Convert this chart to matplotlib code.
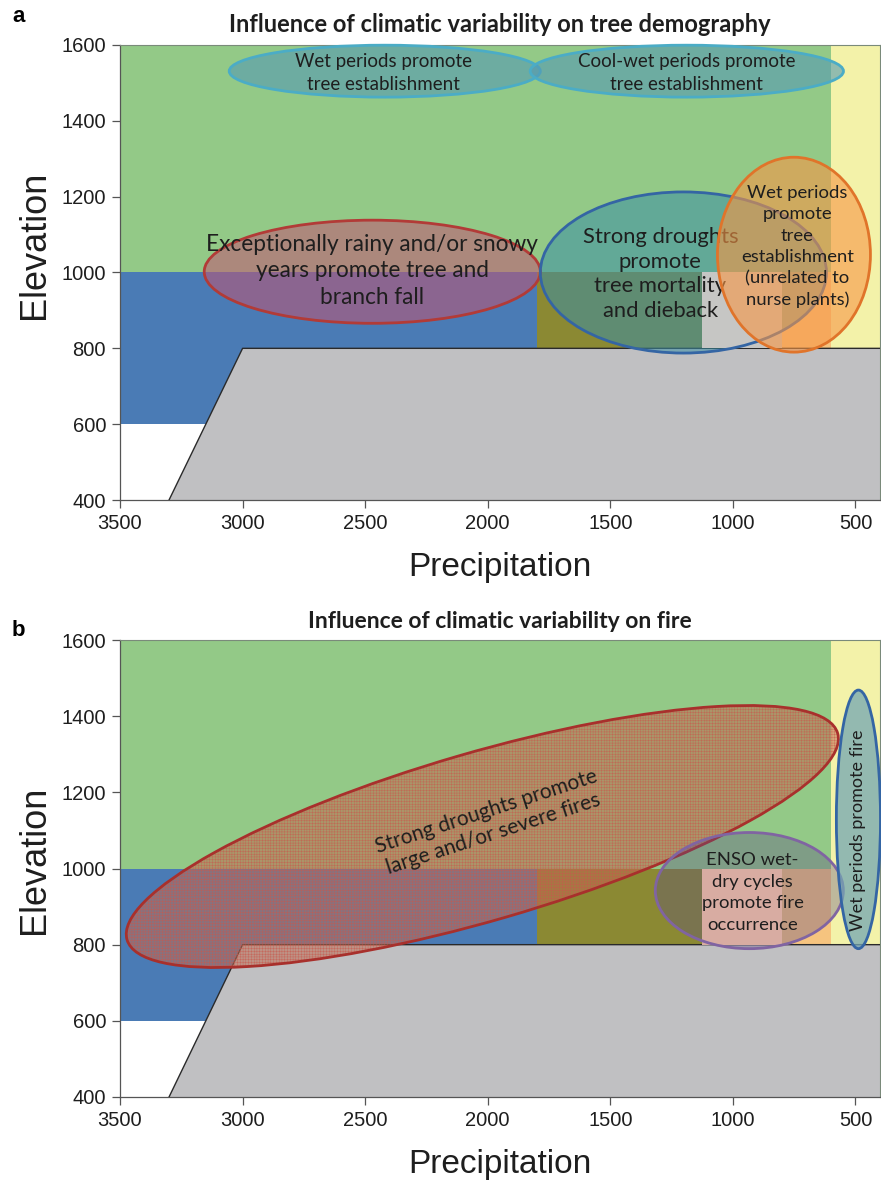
import matplotlib.pyplot as plt
from matplotlib.patches import Ellipse, Rectangle, Polygon
from matplotlib.transforms import ScaledTranslation

# -----------------------
# DATOS
# -----------------------
# franjas de vegetación (precipitación en mm, elevación en m)
zona_nombres = ["bosque", "estepa", "matorral", "ecotono", "transicion", "arbustal"]
zona_x0 = [3500, 600, 3500, 1800, 1125, 800]
zona_x1 = [600, 400, 1800, 1125, 800, 600]
zona_y0 = [1000, 800, 600, 800, 800, 800]
zona_y1 = [1600, 1600, 1000, 1000, 1000, 1000]

# límite inferior (zona sin vegetación)
suelo_x = [3300, 3000, 400, 400]
suelo_y = [400, 800, 800, 400]

x_ticks = [3500, 3000, 2500, 2000, 1500, 1000, 500]
y_ticks = [400, 600, 800, 1000, 1200, 1400, 1600]

# -----------------------
# ESTILO
# -----------------------
ZONA_COLORES = ["#93c987", "#f3f2a9", "#4a7bb5", "#8b8933", "#c6c6c4", "#f6c47f"]
SUELO = "#c0c0c2"
TXT = "#1e1e1e"
FUENTE = ["Lato", "DejaVu Sans"]
EJES = ["Liberation Sans", "DejaVu Sans"]

fig = plt.figure(figsize=(8.81, 11.8), dpi=100)


def fondo(ax, transicion=None, ylab_y=0.5):
    colores = list(ZONA_COLORES)
    if transicion:
        colores[4] = transicion
    for i, (x0, x1, y0, y1, c) in enumerate(zip(zona_x0, zona_x1, zona_y0, zona_y1, colores)):
        # la franja de transición va por encima del relleno de las elipses
        z = 5.5 if zona_nombres[i] == "transicion" else 1
        ax.add_patch(Rectangle((x0, y0), x1 - x0, y1 - y0, facecolor=c,
                               edgecolor="none", zorder=z))
    ax.add_patch(Polygon(list(zip(suelo_x, suelo_y)), closed=True,
                         facecolor=SUELO, edgecolor="none", zorder=2))
    ax.plot(suelo_x[:3], suelo_y[:3], color="#2a2a2a", lw=1.0, zorder=3)
    ax.set_xlim(3500, 400)
    ax.set_ylim(400, 1600)
    ax.set_xticks(x_ticks)
    ax.set_yticks(y_ticks)
    ax.tick_params(axis="both", labelsize=14.5, length=6, width=0.9,
                   color="#555555", labelcolor=TXT, pad=4)
    for lab in ax.get_xticklabels() + ax.get_yticklabels():
        lab.set_family(EJES)
    for s in ["left", "bottom"]:
        ax.spines[s].set_color("#555555")
        ax.spines[s].set_linewidth(0.9)
    for s in ["top", "right"]:
        ax.spines[s].set_color("#7a8a7a")
        ax.spines[s].set_linewidth(0.8)
    ax.set_xlabel("Precipitation", fontsize=24, family=EJES, color=TXT, labelpad=14)
    ax.set_ylabel("Elevation", fontsize=26, family=EJES, color=TXT)
    ax.yaxis.set_label_coords(-0.09, ylab_y)


def elipse(ax, cx, cy, w, h, fc, ec, z, z_borde=None):
    # relleno y borde por separado para poder intercalar capas
    ax.add_patch(Ellipse((cx, cy), w, h, facecolor=fc, edgecolor="none",
                         zorder=z, clip_on=False))
    ax.add_patch(Ellipse((cx, cy), w, h, facecolor="none", edgecolor=ec, lw=2,
                         zorder=z_borde if z_borde else z, clip_on=False))


def texto(ax, x, y, s, size, z, rot=0, ls=1.15):
    ax.text(x, y, s, ha="center", va="center", fontsize=size, family=FUENTE,
            color=TXT, rotation=rot, rotation_mode="anchor", linespacing=ls,
            zorder=z)


# -----------------------
# a) demografía
# -----------------------
ax1 = fig.add_axes([120 / 881, 1 - 500 / 1180, 760 / 881, 455 / 1180])
fondo(ax1, ylab_y=0.56)
ax1.set_title("Influence of climatic variability on tree demography",
              fontsize=17, fontweight="bold", family=FUENTE, color=TXT, pad=9)
fig.text(12 / 881, 1 - 16 / 1180, "a", fontsize=16, fontweight="bold",
         family=EJES, va="center")

azul_claro = (0.33, 0.60, 0.70, 0.6)
elipse(ax1, 2420, 1531, 1269, 137, azul_claro, "#4bacc6", 6)
texto(ax1, 2427, 1526, "Wet periods promote\ntree establishment", 13.5, 7, ls=1.38)
elipse(ax1, 1188, 1531, 1278, 137, azul_claro, "#4bacc6", 6)
texto(ax1, 1190, 1526, "Cool-wet periods promote\ntree establishment", 13.5, 7, ls=1.38)

elipse(ax1, 2471, 1002, 1371, 272, (0.76, 0.33, 0.45, 0.55), "#b23b37", 6)
elipse(ax1, 1202, 1000, 1167, 425, (0.23, 0.56, 0.65, 0.55), "#3465a4", 5, 6)
texto(ax1, 2471, 1004, "Exceptionally rainy and/or snowy\nyears promote tree and\nbranch fall",
      16.3, 7, ls=1.33)
texto(ax1, 1296, 996, "Strong droughts\npromote\ntree mortality\nand dieback",
      15.8, 7, ls=1.3)
elipse(ax1, 751, 1047, 624, 514, (0.97, 0.59, 0.27, 0.6), "#e0742a", 8)
texto(ax1, 737, 1068,
      "Wet periods\npromote\ntree\nestablishment\n(unrelated to\nnurse plants)",
      13.3, 9, ls=1.4)

# -----------------------
# b) fuego
# -----------------------
ax2 = fig.add_axes([120 / 881, 1 - 1097 / 1180, 760 / 881, 457 / 1180])
fondo(ax2, transicion="#d8aca2", ylab_y=0.52)
ax2.set_title("Influence of climatic variability on fire",
              fontsize=16.5, fontweight="bold", family=FUENTE, color=TXT, pad=9)
fig.text(12 / 881, 1 - 630 / 1180, "b", fontsize=16, fontweight="bold",
         family=EJES, va="center")

# elipse inclinada: tamaño en pulgadas, centro en datos
plt.rcParams["hatch.linewidth"] = 0.25
tr = fig.dpi_scale_trans + ScaledTranslation(2022, 1084, ax2.transData)
ax2.add_patch(Ellipse((0, 0), 7.40, 1.68, angle=16.2, transform=tr,
                      facecolor=(0.74, 0.42, 0.32, 0.55), edgecolor="#c9584c",
                      lw=0, hatch="++++++", zorder=5, clip_on=False))
ax2.add_patch(Ellipse((0, 0), 7.40, 1.68, angle=16.2, transform=tr,
                      facecolor="none", edgecolor="#a8302c", lw=2,
                      zorder=5, clip_on=False))
texto(ax2, 1990, 1121, "Strong droughts promote\nlarge and/or severe fires", 15, 6,
      rot=18, ls=1.2)

elipse(ax2, 933, 942, 767, 305, (0.36, 0.30, 0.52, 0.35), "#8064a2", 5, 6)
texto(ax2, 920, 937, "ENSO wet-\ndry cycles\npromote fire\noccurrence", 13.3, 7, ls=1.42)

elipse(ax2, 488, 1129, 180, 679, (0.45, 0.65, 0.70, 0.75), "#3465a4", 6)
texto(ax2, 490, 1100, "Wet periods promote fire", 13, 7, rot=90)

plt.savefig("out.png", dpi=100)
